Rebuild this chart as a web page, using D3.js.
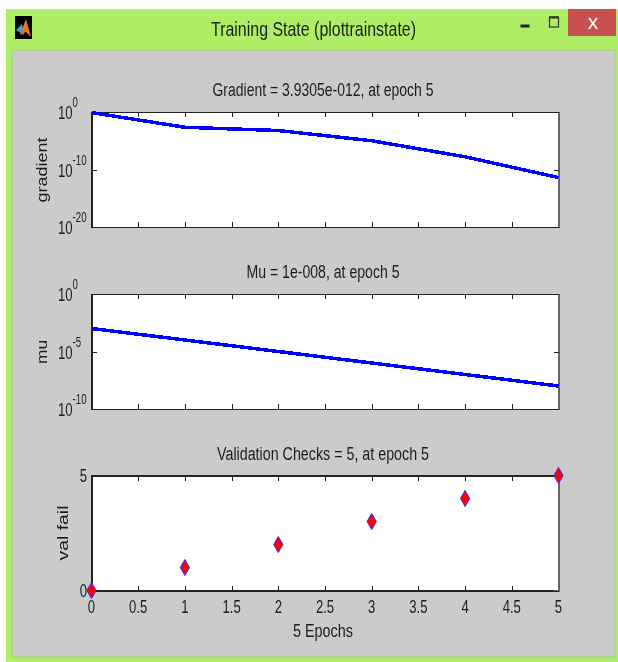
<!DOCTYPE html>
<html>
<head>
<meta charset="utf-8">
<script src="https://cdn.jsdelivr.net/npm/d3@7"></script>
<style>
  html, body { margin: 0; background: #fff; }
  svg { display: block; filter: blur(0.4px); }
  text { font-family: "Liberation Sans", Arial, sans-serif; fill: #1d1d1d; }
</style>
</head>
<body>
<div id="chart"></div>
<script>
// values
var epochs = [0, 1, 2, 3, 4, 5];
var gradient = [0.8, 2.2e-3, 6e-4, 1e-5, 1.6e-8, 3.9305e-12];
var mu = [1e-3, 1e-4, 1e-5, 1e-6, 1e-7, 1e-8];
var valFail = [0, 1, 2, 3, 4, 5];

var xTicks = [0, 0.5, 1, 1.5, 2, 2.5, 3, 3.5, 4, 4.5, 5];
var gradientTicks = [1, 1e-10, 1e-20];
var gradientExp = ["0", "-10", "-20"];
var muTicks = [1, 1e-5, 1e-10];
var muExp = ["0", "-5", "-10"];
var valTicks = [0, 5];

var windowTitle = "Training State (plottrainstate)";
var titles = ["Gradient = 3.9305e-012, at epoch 5", "Mu = 1e-008, at epoch 5", "Validation Checks = 5, at epoch 5"];

var width = 618;
var height = 662;
var left = 91.5;
var right = 558.5;
var panelHeight = 115;
var tops = [112, 294, 475.5];

const svg = d3.select("#chart").append("svg")
  .attr("width", width)
  .attr("height", height);

// window frame
svg.append("rect").attr("x", 6).attr("y", 9).attr("width", 612).attr("height", 653).attr("fill", "#aeee66");
svg.append("rect").attr("x", 12).attr("y", 50).attr("width", 603).attr("height", 607)
  .attr("fill", "#cbcbcb").attr("stroke", "#9edc5a").attr("stroke-width", 1);

// matlab icon
svg.append("rect").attr("x", 15).attr("y", 16).attr("width", 17).attr("height", 23).attr("fill", "#000");
svg.append("path").attr("d", "M16,30 L22,24 L24,35 Z").attr("fill", "#3f9fd0");
svg.append("path").attr("d", "M20,35 L26,19 L31,37 L26,32 Z").attr("fill", "#e8762a");

// close, maximise, minimise buttons
svg.append("rect").attr("x", 568).attr("y", 9).attr("width", 48).attr("height", 27).attr("fill", "#c75050");
svg.append("text").attr("x", 593).attr("y", 29).attr("text-anchor", "middle")
  .attr("font-size", 21).style("fill", "#fff").text("x");
svg.append("rect").attr("x", 549.5).attr("y", 17).attr("width", 9).attr("height", 10)
  .attr("fill", "none").attr("stroke", "#333").attr("stroke-width", 1.2);
svg.append("rect").attr("x", 549.5).attr("y", 16.5).attr("width", 9).attr("height", 2).attr("fill", "#333");
svg.append("rect").attr("x", 520.5).attr("y", 24.5).attr("width", 9).attr("height", 3).attr("fill", "#222");

// squeeze a text to the given pixel length, the screenshot is narrow
function fit(sel, len) {
  sel.attr("textLength", len).attr("lengthAdjust", "spacingAndGlyphs");
}

function squeeze(sel, k) {
  sel.each(function() {
    fit(d3.select(this), this.getComputedTextLength() * k);
  });
}

svg.append("text").attr("x", 313.5).attr("y", 36).attr("text-anchor", "middle")
  .attr("font-size", 21).text(windowTitle).call(fit, 205);

var x = d3.scaleLinear().domain([0, 5]).range([left, right]);

function yLog(top, lo) {
  return d3.scaleLog().domain([lo, 1]).range([top + panelHeight, top]);
}

var yGrad = yLog(tops[0], 1e-20);
var yMu = yLog(tops[1], 1e-10);
var yVal = d3.scaleLinear().domain([0, 5]).range([tops[2] + panelHeight, tops[2]]);

function panel(top, y, yTickValues) {
  const g = svg.append("g");
  g.append("rect").attr("x", left).attr("y", top).attr("width", right - left).attr("height", panelHeight).attr("fill", "#fff");

  g.append("g").attr("transform", `translate(0,${top + panelHeight})`)
    .call(d3.axisBottom(x).tickValues(xTicks).tickSize(-5).tickFormat(""));
  g.append("g").attr("transform", `translate(0,${top})`)
    .call(d3.axisTop(x).tickValues(xTicks).tickSize(-5).tickFormat(""));
  g.append("g").attr("transform", `translate(${left},0)`)
    .call(d3.axisLeft(y).tickValues(yTickValues).tickSize(-5).tickFormat(""));
  g.append("g").attr("class", "rightAxis").attr("transform", `translate(${right},0)`)
    .call(d3.axisRight(y).tickValues(yTickValues).tickSize(-5).tickFormat(""));

  g.selectAll("path.domain").attr("stroke", "#222").attr("stroke-width", 1.3);
  g.selectAll(".tick line").attr("stroke", "#222").attr("stroke-width", 1);
  g.select(".rightAxis path.domain").attr("stroke", "#666").attr("stroke-width", 1.6);
  g.selectAll("path, line").attr("shape-rendering", "crispEdges");
  return g;
}

// 10 with a raised exponent, one text so the two parts stay together
function logLabels(y, values, exps) {
  values.forEach(function(v, i) {
    const t = svg.append("text").attr("x", 58).attr("y", y(v) + 7);
    t.append("tspan").attr("font-size", 19).text("10");
    t.append("tspan").attr("font-size", 14).attr("dy", -12).text(exps[i]);
    t.call(squeeze, 0.69);
  });
}

function curve(y, values) {
  const line = d3.line().x((d, i) => x(epochs[i])).y(d => y(d));
  svg.append("path").datum(values)
    .attr("d", line)
    .attr("fill", "none")
    .attr("stroke", "#0000ff")
    .attr("stroke-width", 3.5)
    .attr("shape-rendering", "crispEdges");
}

function title(i, top, len) {
  svg.append("text").attr("x", 323).attr("y", top - 16).attr("text-anchor", "middle")
    .attr("font-size", 18).text(titles[i]).call(fit, len);
}

function yLabel(text, cx, cy, len) {
  svg.append("text").attr("transform", `translate(${cx},${cy}) rotate(-90)`)
    .attr("text-anchor", "middle").attr("font-size", 15).text(text).call(fit, len);
}

// gradient
panel(tops[0], yGrad, gradientTicks);
curve(yGrad, gradient);
logLabels(yGrad, gradientTicks, gradientExp);
title(0, tops[0], 221);
yLabel("gradient", 47, 170, 65);

// mu
panel(tops[1], yMu, muTicks);
curve(yMu, mu);
logLabels(yMu, muTicks, muExp);
title(1, tops[1], 153);
yLabel("mu", 47, 352, 24);

// validation checks
panel(tops[2], yVal, valTicks);
title(2, tops[2], 212);
yLabel("val fail", 68, 533, 55);

svg.selectAll("text.valTick").data(valTicks).enter().append("text")
  .attr("class", "valTick")
  .attr("x", 87).attr("y", d => yVal(d) + 6.5).attr("text-anchor", "end")
  .attr("font-size", 19).text(d => d).call(squeeze, 0.69);

svg.selectAll("text.xTick").data(xTicks).enter().append("text")
  .attr("class", "xTick")
  .attr("x", d => x(d)).attr("y", tops[2] + panelHeight + 22.5).attr("text-anchor", "middle")
  .attr("font-size", 19).text(d => d).call(squeeze, 0.69);

svg.append("text").attr("x", 323).attr("y", 637).attr("text-anchor", "middle")
  .attr("font-size", 18).text("5 Epochs").call(fit, 60);

svg.selectAll("path.mark").data(valFail).enter().append("path")
  .attr("class", "mark")
  .attr("transform", (d, i) => `translate(${x(epochs[i])},${yVal(d)})`)
  .attr("d", d3.symbol().type(d3.symbolDiamond).size(74))
  .attr("fill", "#ff0000")
  .attr("stroke", "#2a2aff")
  .attr("stroke-width", 1);
</script>
</body>
</html>
